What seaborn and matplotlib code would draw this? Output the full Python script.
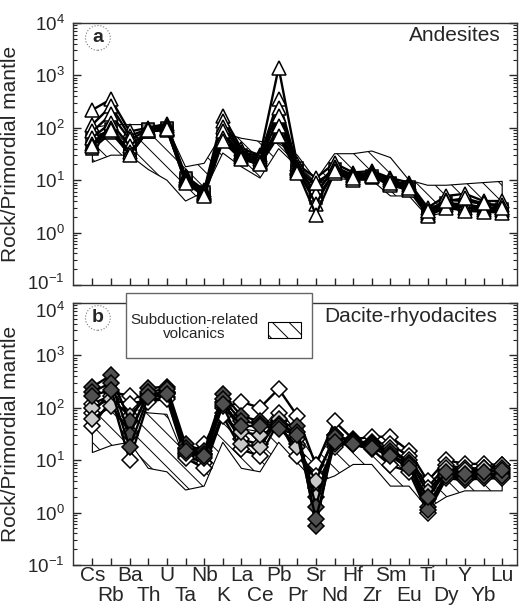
import numpy as np
import pandas as pd
import matplotlib
matplotlib.use("Agg")
import matplotlib.pyplot as plt
from matplotlib.patches import Rectangle
from matplotlib.transforms import ScaledTranslation
import seaborn as sns

sns.set_theme(style="ticks")
plt.rcParams["font.family"] = ["Liberation Sans", "DejaVu Sans"]
plt.rcParams["mathtext.fontset"] = "custom"
plt.rcParams["mathtext.rm"] = "Liberation Sans"
plt.rcParams["mathtext.it"] = "Liberation Sans"
plt.rcParams["hatch.linewidth"] = 0.7

# ---------------------------------------------------------------- data
elements = ["Cs", "Rb", "Ba", "Th", "U", "Ta", "Nb", "K", "La", "Ce", "Pb", "Pr",
            "Sr", "Nd", "Hf", "Zr", "Sm", "Eu", "Ti", "Dy", "Y", "Yb", "Lu"]

# subduction-related volcanics field (upper / lower envelopes)
field_a_upper = [100, 115, 115, 115, 105, 18, 21, 80, 63, 55, 50, 30,
                 10, 32, 32, 36, 27, 10, 8, 8, 8.5, 9, 9.5]
field_a_lower = [22, 30, 30, 16, 10, 4, 6, 33, 18, 11, 40, 18,
                 9, 11, 10, 10, 5, 5, 2, 2.5, 3.2, 3.3, 3.3]
field_b_upper = [70, 100, 100, 80, 75, 10, 12, 63, 40, 35, 100, 32,
                 10, 32, 22, 20, 16, 9, 4, 5.6, 5.6, 5.6, 5.6]
field_b_lower = [14, 19, 22, 7, 6, 2.7, 3.2, 22, 7, 6, 22, 9,
                 3.7, 5, 8.3, 8.3, 3.2, 3.2, 1.2, 2, 2.6, 2.6, 2.6]

# andesites: open triangles
andesite_tri = [
    [220, 350, 85, 100, 120, 12, 6.5, 170, 40, 30, 1400, 20, 11, 21, 14, 15, 11, 9, 3, 5, 5.5, 4, 4],
    [115, 260, 70, 95, 110, 11, 6, 135, 35, 28, 350, 18, 7.5, 18, 12.5, 14, 10, 8, 2.6, 4.2, 4, 3.5, 3.4],
    [85, 180, 60, 90, 100, 10.5, 5.8, 105, 33, 25, 240, 17, 5.5, 17, 12, 13, 9, 7.5, 2.4, 3.6, 3.5, 3, 3],
    [65, 125, 45, 88, 95, 10, 5.5, 85, 30, 22, 170, 16, 3.5, 15, 11, 12.5, 8.5, 7, 2.2, 3.3, 3, 2.7, 2.7],
    [50, 100, 35, 85, 90, 9.5, 5.2, 65, 28, 21, 110, 15, 2.2, 14, 10, 12, 8, 6.5, 2.1, 3, 2.6, 2.5, 2.4],
    [45, 90, 30, 90, 95, 9, 5, 55, 25, 20, 70, 14, 9, 15, 11, 12, 9, 7, 2.6, 4, 4.5, 3.6, 3],
]
# andesites: grey squares
andesite_sq = [
    [60, 95, 30, 90, 95, 10, 5.5, 70, 30, 23, 100, 17, 6, 16, 10, 11, 9, 7.5, 2.5, 3.6, 3.2, 2.8, 2.8],
    [40, 80, 32, 95, 100, 11, 6, 60, 27, 20, 80, 15, 4.5, 14, 10.5, 12, 8.5, 6.8, 2.3, 3.2, 3, 2.6, 2.6],
]

# dacite-rhyodacites: diamonds (dark, light grey, white)
dacite_dark = [
    [250, 420, 55, 240, 250, 20, 15, 180, 70, 55, 50, 45, 0.55, 30, 23, 20, 15, 9, 1.3, 5.5, 5, 5.5, 5.5],
    [200, 300, 30, 200, 230, 17, 13, 150, 55, 50, 45, 35, 1.3, 28, 22, 19, 13, 8, 1.1, 5, 4.5, 5, 5],
    [170, 220, 18, 160, 180, 15, 12, 120, 45, 45, 40, 30, 0.75, 22, 20, 17, 12, 7, 2, 6, 5.5, 6, 6.5],
]
dacite_grey = [
    [100, 150, 70, 170, 190, 14, 11, 110, 20, 18, 60, 25, 2, 20, 24, 21, 14, 10, 2.5, 6.5, 6, 6.5, 6],
    [60, 110, 35, 180, 200, 16, 13, 130, 35, 30, 45, 18, 4, 30, 22, 20, 17, 9, 1.8, 7, 6.5, 7, 7],
]
dacite_white = [
    [80, 200, 170, 150, 190, 13, 20, 100, 130, 100, 230, 70, 8, 55, 25, 28, 28, 15, 4, 10, 8.5, 8.5, 8],
    [45, 140, 120, 140, 160, 12, 9, 80, 25, 20, 80, 20, 3, 18, 22, 22, 20, 12, 3, 8, 7, 7, 8],
    [120, 170, 10, 130, 150, 11, 7, 70, 16, 12, 55, 12, 5, 25, 20, 16, 8, 6, 1.0, 4.5, 4.2, 4.5, 4.5],
]

# ---------------------------------------------------------------- figure
fig = plt.figure(figsize=(5.2, 6.11), dpi=100)
ax_a = fig.add_axes([0.1404, 0.5336, 0.854, 0.4288])
ax_b = fig.add_axes([0.1404, 0.0753, 0.854, 0.4288])

x = np.arange(len(elements))


def draw_field(ax, lower, upper):
    ax.fill_between(x, lower, upper, facecolor="none", edgecolor="black",
                    hatch="\\\\", linewidth=0.8, zorder=1)


def draw_samples(ax, rows, marker, size, face, zorder):
    for row in rows:
        df = pd.DataFrame({"pos": x, "value": row})
        sns.lineplot(data=df, x="pos", y="value", ax=ax, sort=False,
                     color="black", linewidth=1.7, marker=marker,
                     markersize=size, markerfacecolor=face,
                     markeredgecolor="black", markeredgewidth=1.1,
                     zorder=zorder, legend=False)


draw_field(ax_a, field_a_lower, field_a_upper)
draw_samples(ax_a, andesite_sq, "s", 8, "#8a8a8a", 3)
draw_samples(ax_a, andesite_tri, "^", 10, "white", 4)

draw_field(ax_b, field_b_lower, field_b_upper)
draw_samples(ax_b, dacite_white, "D", 8.5, "white", 3)
draw_samples(ax_b, dacite_grey, "D", 8.5, "#c8c8c8", 4)
draw_samples(ax_b, dacite_dark, "D", 8.5, "#505050", 5)

ylabels = [r"$10^{-1}$", r"$10^{0}$", r"$10^{1}$", r"$10^{2}$", r"$10^{3}$", r"$10^{4}$"]
for ax in (ax_a, ax_b):
    ax.set_yscale("log")
    ax.set_ylim(0.1, 1e4)
    ax.set_xlim(-1.04, 22.8)
    ax.set_yticks([0.1, 1, 10, 100, 1000, 10000])
    ax.set_yticklabels(ylabels)
    ax.yaxis.set_minor_locator(matplotlib.ticker.LogLocator(base=10, subs=np.arange(2, 10)))
    ax.yaxis.set_minor_formatter(matplotlib.ticker.NullFormatter())
    ax.tick_params(axis="y", which="major", direction="in", length=6, width=1,
                   right=True, labelsize=13.5, pad=6)
    ax.tick_params(axis="y", which="minor", direction="in", length=3, width=0.8, right=True)
    ax.tick_params(axis="x", direction="in", length=5, width=1)
    ax.set_xticks(x)
    ax.set_xlabel("")
    ax.set_ylabel("Rock/Primordial mantle", fontsize=15, labelpad=5)
    for s in ax.spines.values():
        s.set_linewidth(1.0)
        s.set_color("#333333")

# keep the lowest label of the upper panel clear of the top label of the lower panel
lab_a = ax_a.get_yticklabels()[0]
lab_a.set_transform(lab_a.get_transform() + ScaledTranslation(0, 2 / 72, fig.dpi_scale_trans))
lab_b = ax_b.get_yticklabels()[-1]
lab_b.set_transform(lab_b.get_transform() + ScaledTranslation(0, -5 / 72, fig.dpi_scale_trans))

ax_a.set_xticklabels([])
ax_b.set_xticklabels(elements, fontsize=15)
for i, tick in enumerate(ax_b.xaxis.get_major_ticks()):
    tick.set_pad(1 if i % 2 == 0 else 15)

# panel letters and titles
circle = dict(boxstyle="circle,pad=0.2", fc="white", ec="#777777", lw=0.8, ls=":")
ax_a.text(0.056, 0.943, "a", transform=ax_a.transAxes, fontsize=14, fontweight="bold",
          ha="center", va="center", bbox=circle, zorder=10)
ax_b.text(0.056, 0.943, "b", transform=ax_b.transAxes, fontsize=14, fontweight="bold",
          ha="center", va="center", bbox=circle, zorder=10)
ax_a.text(0.962, 0.954, "Andesites", transform=ax_a.transAxes, fontsize=15,
          ha="right", va="center")
ax_b.text(0.955, 0.950, "Dacite-rhyodacites", transform=ax_b.transAxes, fontsize=15,
          ha="right", va="center")

# legend box for the field
W, H = 520.0, 611.0
fig.patches.append(Rectangle((126 / W, 1 - 358 / H), 186 / W, 65 / H,
                             transform=fig.transFigure, facecolor="white",
                             edgecolor="#666666", linewidth=1.0, zorder=20))
fig.patches.append(Rectangle((268 / W, 1 - 338 / H), 33 / W, 16 / H,
                             transform=fig.transFigure, facecolor="none",
                             edgecolor="black", hatch="\\\\", linewidth=0.8, zorder=21))
fig.text(194 / W, 1 - 327 / H, "Subduction-related\nvolcanics", fontsize=11,
         ha="center", va="center", linespacing=1.05, zorder=22)

fig.savefig("out.png", dpi=100)
